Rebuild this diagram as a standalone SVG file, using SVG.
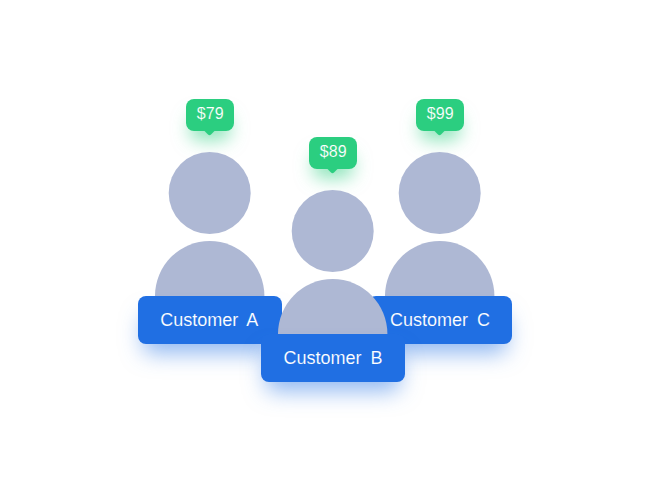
<svg xmlns="http://www.w3.org/2000/svg" width="650" height="480" viewBox="0 0 650 480">
<style>
.head,.body{fill:#aeb8d4}
.card{fill:#206fe3}
.tag{fill:#2bce80}
.name{font:18px "Liberation Sans",Arial,sans-serif;fill:#fff;text-anchor:middle;word-spacing:4px;stroke:#206fe3;stroke-width:.12px}
.price{font:16px "Liberation Sans",Arial,sans-serif;fill:#fff;text-anchor:middle;stroke:#2bce80;stroke-width:.12px}
</style>
<defs>
<filter id="cardShadow" x="-40%" y="-40%" width="180%" height="280%" color-interpolation-filters="sRGB">
<feMorphology in="SourceAlpha" operator="erode" radius="5" result="e"/>
<feGaussianBlur in="e" stdDeviation="11" result="b"/>
<feOffset in="b" dy="14" result="o"/>
<feFlood flood-color="#206fe3" flood-opacity=".5"/>
<feComposite in2="o" operator="in"/>
<feMerge><feMergeNode/><feMergeNode in="SourceGraphic"/></feMerge>
</filter>
<filter id="tagShadow" x="-80%" y="-80%" width="260%" height="340%" color-interpolation-filters="sRGB">
<feMorphology in="SourceAlpha" operator="erode" radius="4" result="e"/>
<feGaussianBlur in="e" stdDeviation="9" result="b"/>
<feOffset in="b" dy="13" result="o"/>
<feFlood flood-color="#2bce80" flood-opacity=".55"/>
<feComposite in2="o" operator="in"/>
<feMerge><feMergeNode/><feMergeNode in="SourceGraphic"/></feMerge>
</filter>
<g id="tagShape"><rect class="tag" x="-24" y="-16" width="48" height="32" rx="8"/><path class="tag" d="M-6 15.500H5L1 19.500Q-.5 21-2 19.500Z"/></g>
</defs>
<rect width="650" height="480" fill="#fff"/>
<g id="connectors"/>
<g id="customer-a">
<g filter="url(#tagShadow)" transform="translate(210 115)"><use href="#tagShape"/></g>
<text class="price" x="210.200" y="119.300">$79</text>
<circle class="head" cx="209.700" cy="193" r="41"/>
<path class="body" d="M155 296a54.700 55 0 0 1 109.400 0Z"/>
<rect class="card" filter="url(#cardShadow)" x="138" y="296" width="144" height="48" rx="8"/>
<text class="name" x="209.300" y="326">Customer A</text>
</g>
<g id="customer-c">
<g filter="url(#tagShadow)" transform="translate(440 115)"><use href="#tagShape"/></g>
<text class="price" x="440.200" y="119.300">$99</text>
<circle class="head" cx="439.700" cy="193" r="41"/>
<path class="body" d="M385 296a54.700 55 0 0 1 109.400 0Z"/>
<rect class="card" filter="url(#cardShadow)" x="368" y="296" width="144" height="48" rx="8"/>
<text class="name" x="440" y="326">Customer C</text>
</g>
<g id="customer-b">
<g filter="url(#tagShadow)" transform="translate(333 153)"><use href="#tagShape"/></g>
<text class="price" x="333.200" y="157.300">$89</text>
<circle class="head" cx="332.700" cy="231" r="41"/>
<path class="body" d="M278 334a54.700 55 0 0 1 109.400 0Z"/>
<rect class="card" filter="url(#cardShadow)" x="261" y="334" width="144" height="48" rx="8"/>
<text class="name" x="333" y="364">Customer B</text>
</g>
</svg>
